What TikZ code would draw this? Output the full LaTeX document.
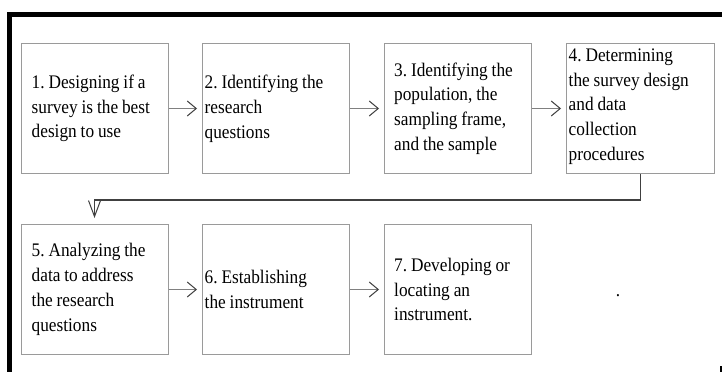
\documentclass[tikz,border=0pt]{standalone}
\usepackage{fontspec}
\setmainfont{Liberation Serif}[FakeStretch=0.9, WordSpace=0.9]
\usetikzlibrary{arrows.meta}
\definecolor{boxgray}{HTML}{9A9A9A}
\definecolor{linegray}{HTML}{808080}
\definecolor{headgray}{HTML}{404040}
\begin{document}
\frenchspacing
\begin{tikzpicture}[x=1pt,y=-1pt,
  stepbox/.style={draw=boxgray, line width=1pt, minimum width=147pt, minimum height=130pt,
    anchor=north west, inner sep=0pt},
  txt/.style={align=left, anchor=west, inner sep=0pt,
    font=\fontsize{19.2}{24.8}\selectfont\frenchspacing},
  flow/.style={draw=linegray, line width=1.8pt, shorten >=5pt,
    -{Straight Barb[length=9pt, width=15pt, line width=1pt, color=headgray]}},
  link/.style={draw=headgray, line width=1.1pt, shorten >=6pt,
    -{Straight Barb[length=16pt, width=12pt, line width=1pt, color=headgray]}},
  frame/.style={fill=black}
]
\useasboundingbox (0,0) rectangle (722,372);
% frame
\fill[frame] (7,12) rectangle (722,17);
\fill[frame] (7,12) rectangle (12,372);
\fill[frame] (720,366) rectangle (722,372);
% boxes
\node[stepbox] (b1) at (20.5,43)  {};
\node[stepbox] (b2) at (202,43)   {};
\node[stepbox] (b3) at (384,43)   {};
\node[stepbox, minimum width=148pt] (b4) at (566,43) {};
\node[stepbox] (b5) at (20.5,224) {};
\node[stepbox] (b6) at (202,224)  {};
\node[stepbox] (b7) at (384,224)  {};
% texts
\node[txt] (t1) at ([xshift=11pt]b1.west) {1. Designing if a\\survey is the best\\design to use};
\node[txt] (t2) at ([xshift=2.5pt]b2.west) {2. Identifying the\\research\\questions};
\node[txt] (t3) at ([xshift=10pt]b3.west) {3. Identifying the\\population, the\\sampling frame,\\and the sample};
\node[txt] (t4) at ([xshift=2.5pt, yshift=2pt]b4.west) {4. Determining\\the survey design\\and data\\collection\\procedures};
\node[txt] (t5) at ([xshift=11pt]b5.west) {5. Analyzing the\\data to address\\the research\\questions};
\node[txt] (t6) at ([xshift=2.5pt]b6.west) {6. Establishing\\the instrument};
\node[txt] (t7) at ([xshift=10pt]b7.west) {7. Developing or\\locating an\\instrument.};
\node[anchor=base, font=\fontsize{19.2}{24.8}\selectfont, inner sep=0pt] (dot) at (618,296) {.};
% connectors
\draw[flow] (b1.east) -- (b2.west);
\draw[flow] (b2.east) -- (b3.west);
\draw[flow] (b3.east) -- (b4.west);
\draw[flow] (b5.east) -- (b6.west);
\draw[flow] (b6.east) -- (b7.west);
\draw[link] (b4.south) -- ++(0,26) -| (b5.north);
\end{tikzpicture}
\end{document}
